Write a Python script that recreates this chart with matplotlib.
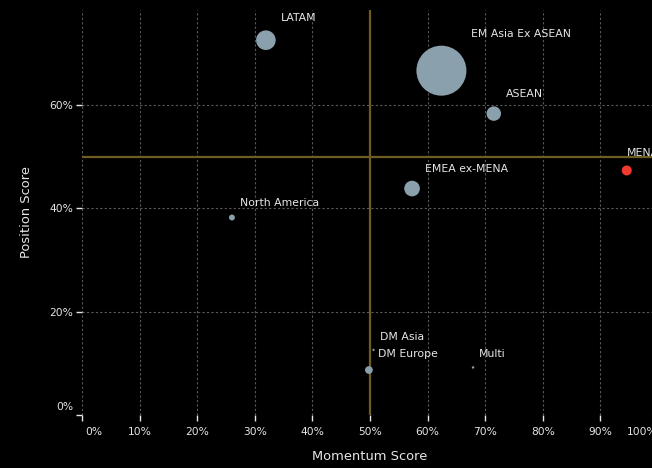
import matplotlib
matplotlib.use("Agg")
import matplotlib.pyplot as plt
import matplotlib.transforms as mtransforms
from matplotlib.ticker import FuncFormatter

# data
regions = ["LATAM", "EM Asia Ex ASEAN", "ASEAN", "MENA", "EMEA ex-MENA",
           "North America", "DM Asia", "DM Europe", "Multi"]
momentum = [0.319, 0.624, 0.715, 0.946, 0.573, 0.260, 0.506, 0.498, 0.679]
position = [0.725, 0.666, 0.583, 0.473, 0.438, 0.382, 0.126, 0.087, 0.092]
weight = [7.7, 50.0, 4.2, 2.0, 4.9, 0.7, 0.1, 1.2, 0.12]
highlight = ["MENA"]

x_ticks = [i / 10 for i in range(11)]
y_ticks = [0.0, 0.2, 0.4, 0.6]

bg = "#000000"
txt = "#e6e6e6"
grid_c = "#5a5a5a"
line_c = "#6e5d22"
bubble_c = "#8aa0ac"
red_c = "#f03a2e"

fig = plt.figure(figsize=(6.52, 4.68), dpi=100, facecolor=bg)
ax = fig.add_axes([82.3 / 652, 53 / 468, 575.5 / 652, 405 / 468])
ax.set_facecolor(bg)

ax.set_xlim(0, 1.0)
ax.set_ylim(0, 405 / 517)

for s in ax.spines.values():
    s.set_visible(False)

ax.set_xticks(x_ticks)
ax.set_yticks(y_ticks)
pct = FuncFormatter(lambda v, p: "%d%%" % round(v * 100))
ax.xaxis.set_major_formatter(pct)
ax.yaxis.set_major_formatter(pct)
ax.tick_params(colors=txt, length=4.3, width=1, labelsize=7.7)
ax.tick_params(axis="x", pad=4)
ax.tick_params(axis="y", pad=2.2)
ax.grid(True, color=grid_c, linestyle=(0, (2, 2)), linewidth=0.8)
ax.set_axisbelow(True)

# keep edge labels inside the plot area
xl = ax.get_xticklabels()
xl[0].set_ha("left")
xl[0].set_transform(xl[0].get_transform() + mtransforms.ScaledTranslation(3 / 100, 0, fig.dpi_scale_trans))
xl[-1].set_ha("right")
yl = ax.get_yticklabels()
yl[0].set_va("bottom")
yl[0].set_transform(yl[0].get_transform() + mtransforms.ScaledTranslation(0, 3 / 100, fig.dpi_scale_trans))

ax.axhline(0.5, color=line_c, linewidth=1.6, zorder=2)
ax.axvline(0.5, color=line_c, linewidth=1.6, zorder=2)

colors = [red_c if r in highlight else bubble_c for r in regions]
ax.scatter(momentum, position, s=[25.92 * w for w in weight], c=colors,
           linewidths=0, zorder=3)

nudge = {"MENA": -10}
for r, x, y, w in zip(regions, momentum, position, weight):
    rad = (12.5 * w) ** 0.5
    ax.annotate(r, (x, y), xytext=(5 + rad + nudge.get(r, 0), 12 + rad),
                textcoords="offset pixels", ha="left", va="center",
                color=txt, fontsize=7.8, zorder=4, annotation_clip=False)

ax.set_xlabel("Momentum Score", color=txt, fontsize=9.4, labelpad=10)
ax.set_ylabel("Position Score", color=txt, fontsize=9.4, labelpad=12)

fig.savefig("out.png", dpi=100, facecolor=bg)
